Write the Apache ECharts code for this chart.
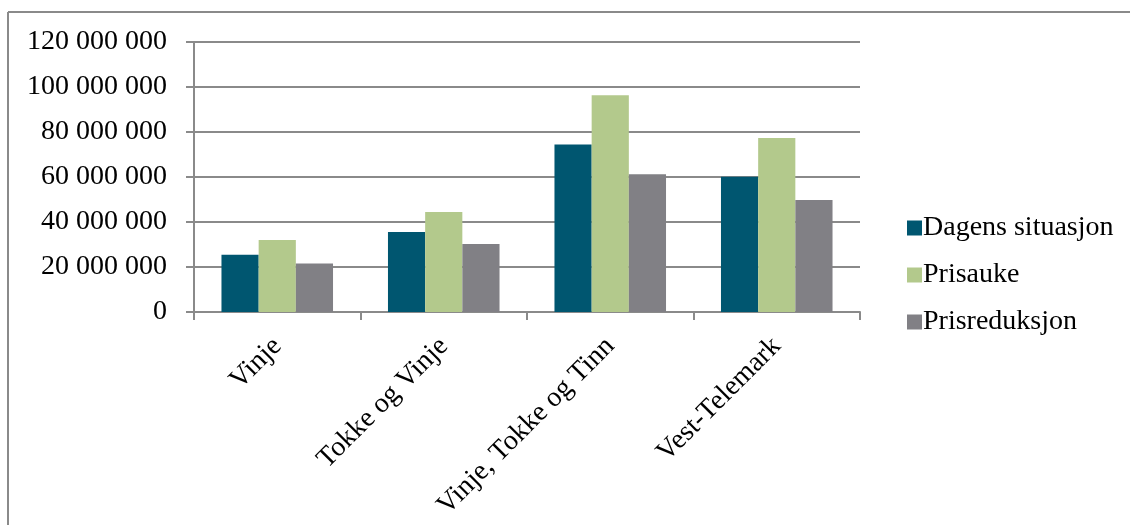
<!DOCTYPE html>
<html>
<head>
<meta charset="utf-8">
<script src="https://cdn.jsdelivr.net/npm/echarts@6/dist/echarts.min.js"></script>
<style>
html,body{margin:0;padding:0;background:#fff;}
#chart{width:1130px;height:525px;}
</style>
</head>
<body>
<div id="chart"></div>
<script>
const categories = ['Vinje', 'Tokke og Vinje', 'Vinje, Tokke og Tinn', 'Vest-Telemark'];
const seriesNames = ['Dagens situasjon', 'Prisauke', 'Prisreduksjon'];
const dagens = [25500000, 35600000, 74400000, 60100000];
const prisauke = [32000000, 44400000, 96300000, 77300000];
const prisreduksjon = [21600000, 30200000, 61200000, 49800000];
const yTicks = [0, 20000000, 40000000, 60000000, 80000000, 100000000, 120000000];

const colors = ['#005670', '#b3c98c', '#818085'];
const font = '"Liberation Serif", serif';
const fmt = v => String(v).replace(/\B(?=(\d{3})+(?!\d))/g, ' ');

const chart = echarts.init(document.getElementById('chart'));
chart.setOption({
  animation: false,
  backgroundColor: '#fff',
  color: colors,
  graphic: [
    {type: 'line', shape: {x1: 8, y1: 12, x2: 1130, y2: 12}, style: {stroke: '#8a8a8a', lineWidth: 2}},
    {type: 'line', shape: {x1: 8, y1: 12, x2: 8, y2: 525}, style: {stroke: '#8a8a8a', lineWidth: 2}}
  ],
  grid: {left: 194, right: 270, top: 42, bottom: 213, containLabel: false},
  legend: {
    orient: 'vertical',
    left: 902,
    top: 209,
    itemWidth: 15,
    itemHeight: 15,
    itemGap: 19,
    icon: 'rect',
    data: seriesNames,
    textStyle: {fontFamily: font, fontSize: 28, color: '#000', padding: [0, 0, 0, -4]}
  },
  xAxis: {
    type: 'category',
    data: categories,
    axisLine: {lineStyle: {color: '#8a8a8a', width: 2}},
    axisTick: {show: true, length: 8, lineStyle: {color: '#8a8a8a', width: 2}},
    axisLabel: {rotate: 45, margin: 30, fontFamily: font, fontSize: 28, color: '#000', interval: 0}
  },
  yAxis: {
    type: 'value',
    min: yTicks[0],
    max: yTicks[yTicks.length - 1],
    interval: yTicks[1] - yTicks[0],
    axisLine: {show: true, lineStyle: {color: '#8a8a8a', width: 2}},
    axisTick: {show: true, length: 8, lineStyle: {color: '#8a8a8a', width: 2}},
    splitLine: {lineStyle: {color: '#8a8a8a', width: 2}},
    axisLabel: {margin: 27, fontFamily: font, fontSize: 28, color: '#000', formatter: fmt}
  },
  series: [
    {name: seriesNames[0], type: 'bar', data: dagens, barGap: '0%', barCategoryGap: '33%'},
    {name: seriesNames[1], type: 'bar', data: prisauke, barGap: '0%', barCategoryGap: '33%'},
    {name: seriesNames[2], type: 'bar', data: prisreduksjon, barGap: '0%', barCategoryGap: '33%'}
  ]
});
</script>
</body>
</html>
